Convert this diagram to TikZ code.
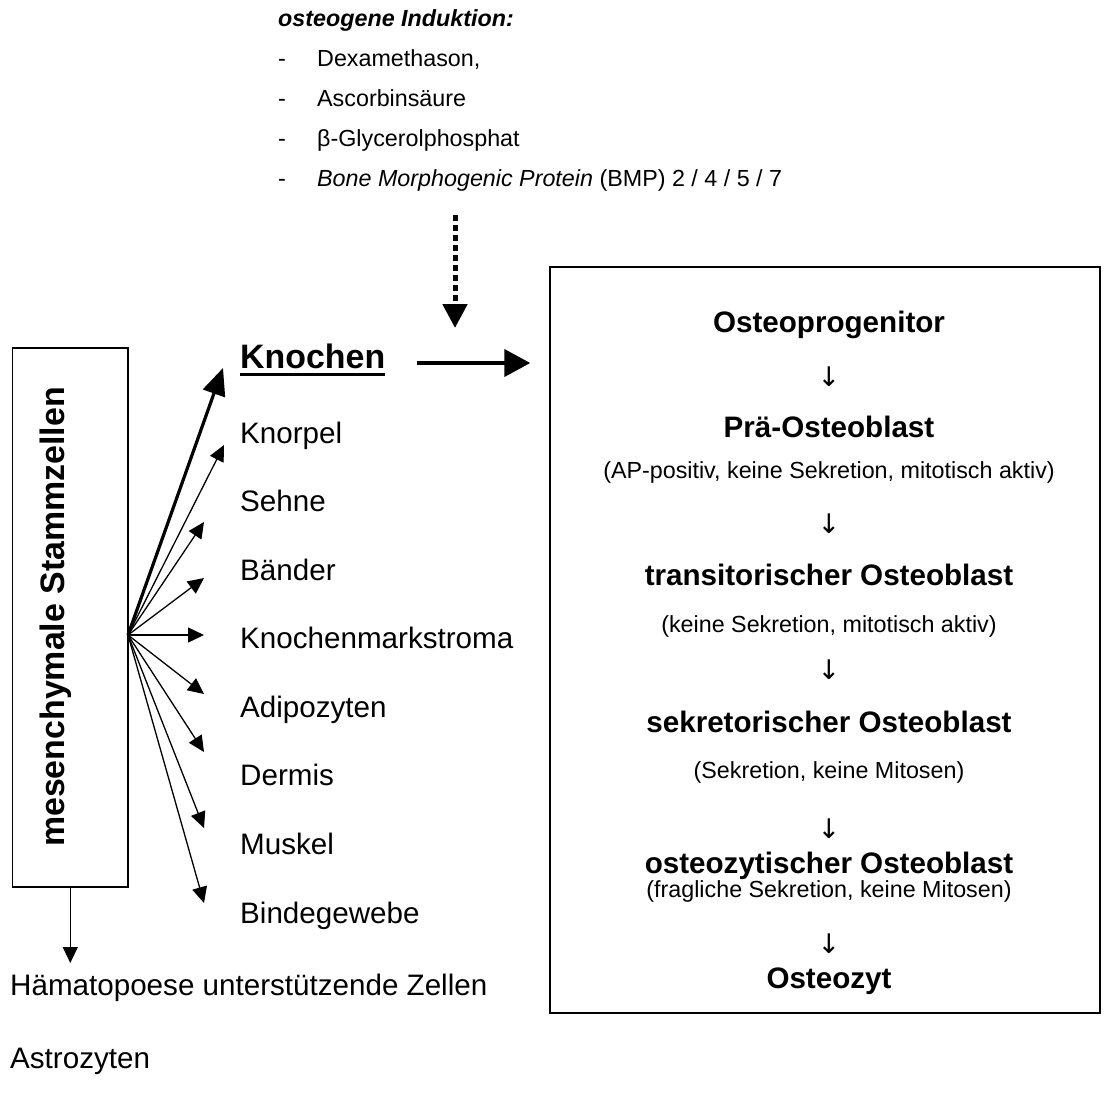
\documentclass[tikz,border=0pt]{standalone}
\usepackage{fontspec}
\setmainfont{Liberation Sans}
\newfontfamily\arrowfont{DejaVu Sans}
\usetikzlibrary{arrows.meta}
\newcommand\fItem{\fontsize{29.6pt}{34pt}\selectfont}
\newcommand\fBig{\fontsize{33.9pt}{38pt}\selectfont}
\newcommand\fSmall{\fontsize{23.3pt}{27pt}\selectfont}
\newcommand\fArr{\arrowfont\fontsize{27pt}{30pt}\selectfont}
\begin{document}
\begin{tikzpicture}[x=1pt,y=1pt,
  txt/.style={inner sep=0pt, anchor=base west},
  ctr/.style={inner sep=0pt, anchor=base},
  thinarrow/.style={line width=1.3pt,-{Triangle[length=16pt,width=15pt]}},
  thickarrow/.style={line width=3.2pt,-{Triangle[length=27pt,width=23pt]}},
  heavyarrow/.style={line width=4pt,-{Triangle[length=26pt,width=27pt]}},
  dotarrow/.style={line width=5pt,dash pattern=on 6pt off 4pt,-{Triangle[length=24pt,width=24pt]}},
  frame/.style={draw,line width=1.4pt,inner sep=0pt},
  head/.style={ctr,font=\fItem\bfseries},
  note/.style={ctr,font=\fSmall},
  down/.style={ctr,font=\fArr}]
\useasboundingbox (0,0) rectangle (1105,-1092);

% top list
\node[txt,font=\fSmall\bfseries\itshape] (ind) at (278,-27) {osteogene Induktion:};
\node[txt,font=\fSmall] (d1) at (278,-66) {-};
\node[txt,font=\fSmall] (l1) at (317,-66) {Dexamethason,};
\node[txt,font=\fSmall] (d2) at (278,-106) {-};
\node[txt,font=\fSmall] (l2) at (317,-106) {Ascorbinsäure};
\node[txt,font=\fSmall] (d3) at (278,-146) {-};
\node[txt,font=\fSmall] (l3) at (317,-146) {β-Glycerolphosphat};
\node[txt,font=\fSmall] (d4) at (278,-186) {-};
\node[txt,font=\fSmall] (l4) at (317,-186) {\textit{Bone Morphogenic Protein} (BMP) 2 / 4 / 5 / 7};

% dotted arrow
\coordinate (dA) at (455,-215);
\coordinate (dB) at (455,-328);
\draw[dotarrow] (dA) -- (dB);

% left box
\node[frame,minimum width=115.5pt,minimum height=539pt] (msc) at (70.3,-617.5) {};
\node[ctr,font=\fBig\bfseries,rotate=90] (msct) at (64,-617) {mesenchymale Stammzellen};

% items
\node[txt,font=\fBig\bfseries] (kn) at (240,-368) {Knochen};
\draw[line width=3pt] ([yshift=-6pt]kn.base west) -- ([yshift=-6pt]kn.base east);
\node[txt,font=\fItem] (i1) at (240,-443) {Knorpel};
\node[txt,font=\fItem] (i2) at (240,-511.6) {Sehne};
\node[txt,font=\fItem] (i3) at (240,-580.1) {Bänder};
\node[txt,font=\fItem] (i4) at (240,-648.7) {Knochenmarkstroma};
\node[txt,font=\fItem] (i5) at (240,-717.3) {Adipozyten};
\node[txt,font=\fItem] (i6) at (240,-785.9) {Dermis};
\node[txt,font=\fItem] (i7) at (240,-854.4) {Muskel};
\node[txt,font=\fItem] (i8) at (240,-923) {Bindegewebe};

% fan
\coordinate (fan) at (128,-635);
\coordinate (t0) at (223,-368);
\coordinate (t1) at (224,-445);
\coordinate (t2) at (204,-522);
\coordinate (t3) at (204,-578);
\coordinate (t4) at (204,-635);
\coordinate (t5) at (204,-694);
\coordinate (t6) at (204,-752);
\coordinate (t7) at (204,-828);
\coordinate (t8) at (204,-903);
\draw[thickarrow] (fan) -- (t0);
\foreach \t in {t1,t2,t3,t4,t5,t6,t7,t8} \draw[thinarrow] (fan) -- (\t);

% down arrow from box
\coordinate (hb) at (70.3,-963);
\draw[thinarrow] (msc.south) -- (hb);
\node[txt,font=\fItem] (hae) at (10,-995) {Hämatopoese unterstützende Zellen};
\node[txt,font=\fItem] (ast) at (10,-1068) {Astrozyten};

% right box
\node[frame,minimum width=550pt,minimum height=746pt] (obox) at (825,-640) {};
\coordinate (kA) at (417,-363);
\draw[heavyarrow] (kA) -- ([xshift=-19pt]obox.west |- kA);

\node[head] (o1) at (829,-332) {Osteoprogenitor};
\node[down] (a1) at (829,-386) {↓};
\node[head] (o2) at (829,-437) {Prä-Osteoblast};
\node[note] (n2) at (829,-478) {(AP-positiv, keine Sekretion, mitotisch aktiv)};
\node[down] (a2) at (829,-533) {↓};
\node[head] (o3) at (829,-585) {transitorischer Osteoblast};
\node[note] (n3) at (829,-632) {(keine Sekretion, mitotisch aktiv)};
\node[down] (a3) at (829,-679) {↓};
\node[head] (o4) at (829,-732) {sekretorischer Osteoblast};
\node[note] (n4) at (829,-778) {(Sekretion, keine Mitosen)};
\node[down] (a4) at (829,-838) {↓};
\node[head] (o5) at (829,-873) {osteozytischer Osteoblast};
\node[note] (n5) at (829,-897) {(fragliche Sekretion, keine Mitosen)};
\node[down] (a5) at (829,-953) {↓};
\node[head] (o6) at (829,-988) {Osteozyt};
\end{tikzpicture}
\end{document}
